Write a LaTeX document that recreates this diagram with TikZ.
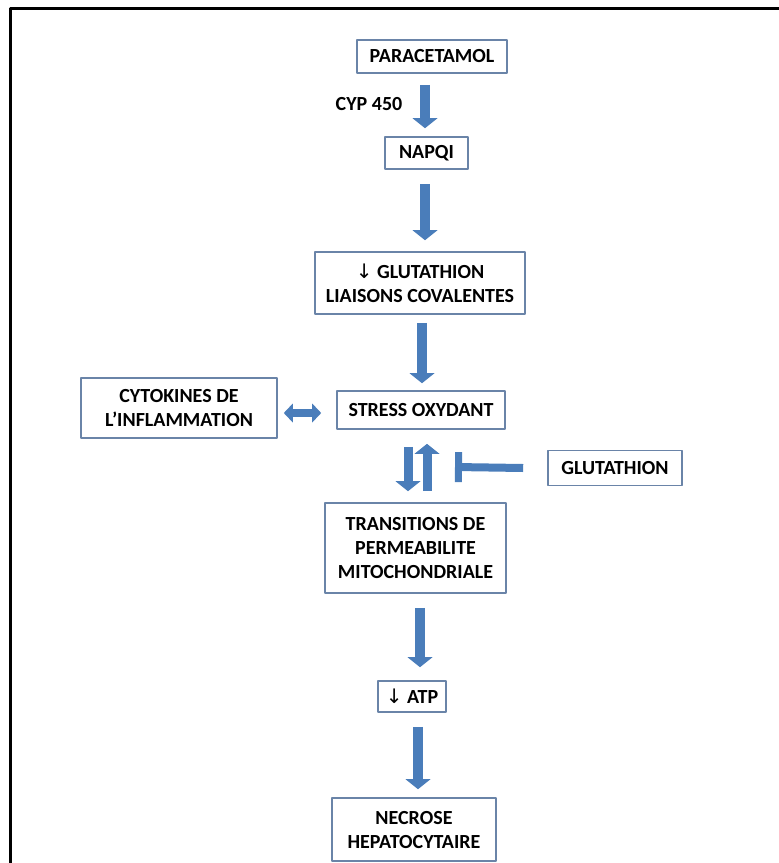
\documentclass[tikz,border=0pt]{standalone}
\usepackage{fontspec}
\setmainfont{Carlito}
\newfontfamily\arrowfont{DejaVu Sans}
\usetikzlibrary{arrows.meta}
\definecolor{boxline}{HTML}{6A84A8}
\definecolor{arrowblue}{HTML}{4A7DBA}
\tikzset{
  every picture/.style={font=\bfseries\fontsize{20}{24}\selectfont, line join=round, >=Stealth},
  stepbox/.style={draw=boxline, line width=1.6pt, fill=white, align=center, inner sep=0pt},
  flow/.style={draw=arrowblue, line width=10pt, -{Triangle[width=25pt,length=10pt,line width=0pt]}},
  twoway/.style={draw=arrowblue, line width=8pt, {Triangle[width=19pt,length=9pt,line width=0pt]}-{Triangle[width=19pt,length=9pt,line width=0pt]}},
  inhibit/.style={draw=arrowblue, line width=8pt, -{Bar[width=30pt,line width=7pt]}},
}
\newcommand{\less}{{\arrowfont\mdseries\char"2193}}

\begin{document}
\begin{tikzpicture}[x=1pt,y=-1pt]
\useasboundingbox (0,0) rectangle (779,863);
\draw[line width=3pt] (10,863)--(10,8)--(779,8);
% boxes
\node[stepbox, minimum width=150, minimum height=33] (para) at (432,56.5) {PARACETAMOL};
\node (cyp) at (369,104) {CYP 450};
\node[stepbox, minimum width=83, minimum height=32] (napqi) at (426.5,153) {NAPQI};
\node[stepbox, minimum width=210, minimum height=62] (gsh) at (420,283) {\less\ GLUTATHION\\LIAISONS COVALENTES};
\node[stepbox, minimum width=168, minimum height=38] (stress) at (421,410) {STRESS OXYDANT};
\node[stepbox, minimum width=196, minimum height=60] (cyto) at (179,408) {CYTOKINES DE\\L'INFLAMMATION};
\node[stepbox, minimum width=134, minimum height=35] (gsh2) at (615,468) {GLUTATHION};
\node[stepbox, minimum width=181, minimum height=90] (mpt) at (415.5,548) {TRANSITIONS DE\\PERMEABILITE\\MITOCHONDRIALE};
\node[stepbox, minimum width=68, minimum height=31] (atp) at (412,696.5) {\less\ ATP};
\node[stepbox, minimum width=164, minimum height=63] (necro) at (414,829.5) {NECROSE\\HEPATOCYTAIRE};
\coordinate (block) at (455,467);
% arrows
\draw[flow, shorten <=11pt, shorten >=8pt] ([xshift=-7pt]para.south) -- ([xshift=-7pt]para.south |- napqi.north);
\draw[flow, shorten <=14pt, shorten >=11pt] ([xshift=-1.5pt]napqi.south) -- ([xshift=-1.5pt]napqi.south |- gsh.north);
\draw[flow, shorten <=8pt, shorten >=7pt] ([xshift=2pt]gsh.south) -- ([xshift=2pt]gsh.south |- stress.north);
\draw[twoway, shorten <=6pt, shorten >=15pt] (cyto.east |- 0,413) -- (stress.west |- 0,413);
\draw[flow, line width=9pt, shorten <=17pt, shorten >=11pt] ([xshift=-13pt]stress.south) -- ([xshift=-13pt]stress.south |- mpt.north);
\draw[flow, line width=9pt, shorten <=11pt, shorten >=14pt] ([xshift=6pt]stress.south |- mpt.north) -- ([xshift=6pt]stress.south);
\draw[inhibit] (gsh2.west) ++(-24pt,0) -- (block);
\draw[flow, shorten <=14pt, shorten >=13pt] ([xshift=4.5pt]mpt.south) -- ([xshift=4.5pt]mpt.south |- atp.north);
\draw[flow, shorten <=14pt, shorten >=8pt] ([xshift=6pt]atp.south) -- ([xshift=6pt]atp.south |- necro.north);
\end{tikzpicture}
\end{document}
